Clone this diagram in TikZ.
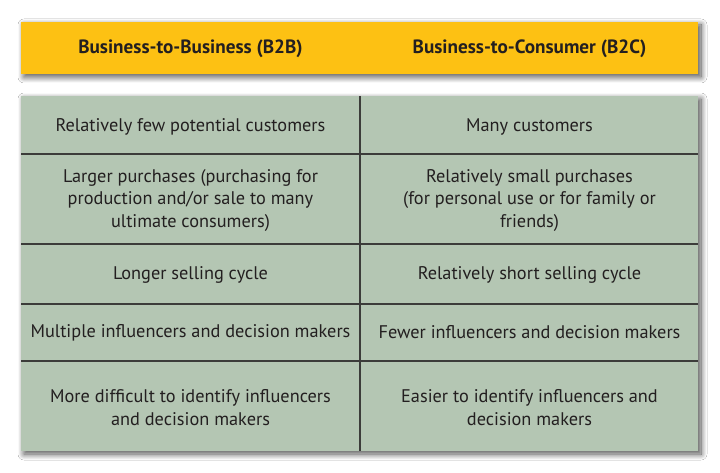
\documentclass[tikz,border=0pt]{standalone}
\usepackage{fontspec}
\setmainfont{PT Sans}
\usetikzlibrary{shadows.blur}
\definecolor{hdr}{HTML}{FDC113}
\definecolor{cell}{HTML}{B4C6B3}
\definecolor{txt}{HTML}{231F20}
\definecolor{rule}{HTML}{3C3C3A}
\tikzset{
  panel/.style={blur shadow={shadow xshift=3bp,shadow yshift=-3bp,shadow blur steps=12,shadow blur radius=6bp,shadow opacity=70}},
  celltext/.style={text=txt,font=\fontsize{18.3bp}{22.5bp}\selectfont,align=center,anchor=center},
  headtext/.style={text=txt,font=\fontsize{19.2bp}{22.5bp}\selectfont\bfseries,anchor=center},
  gridline/.style={draw=rule,line width=1.4bp}
}
\begin{document}
\begin{tikzpicture}[x=1bp,y=-1bp]
\useasboundingbox (0,0) rectangle (720,473);
\fill[white] (0,0) rectangle (720,473);
% header
\path[fill=hdr,panel] (21,22) rectangle (698,74);
\node[headtext] (h1) at (190.5,49) {Business-to-Business (B2B)};
\node[headtext] (h2) at (529.5,49) {Business-to-Consumer (B2C)};
% table
\path[fill=cell,panel] (21,96) rectangle (698,451);
\draw[gridline] (21,154) -- (698,154);
\draw[gridline] (21,244) -- (698,244);
\draw[gridline] (21,304) -- (698,304);
\draw[gridline] (21,361) -- (698,361);
\draw[gridline] (360,96) -- (360,451);
% cells
\node[celltext] (a1) at (190.5,126.5) {Relatively few potential customers};
\node[celltext] (b1) at (529.5,126.5) {Many customers};
\node[celltext] (a2) at (190.5,200.5) {Larger purchases (purchasing for\\production and/or sale to many\\ultimate consumers)};
\node[celltext] (b2) at (529.5,200.5) {Relatively small purchases\\(for personal use or for family or\\friends)};
\node[celltext] (a3) at (190.5,274.5) {Longer selling cycle};
\node[celltext] (b3) at (529.5,274.5) {Relatively short selling cycle};
\node[celltext] (a4) at (190.5,332.5) {Multiple influencers and decision makers};
\node[celltext] (b4) at (529.5,332.5) {Fewer influencers and decision makers};
\node[celltext] (a5) at (190.5,407.5) {More difficult to identify influencers\\and decision makers};
\node[celltext] (b5) at (529.5,407.5) {Easier to identify influencers and\\decision makers};
\end{tikzpicture}
\end{document}
